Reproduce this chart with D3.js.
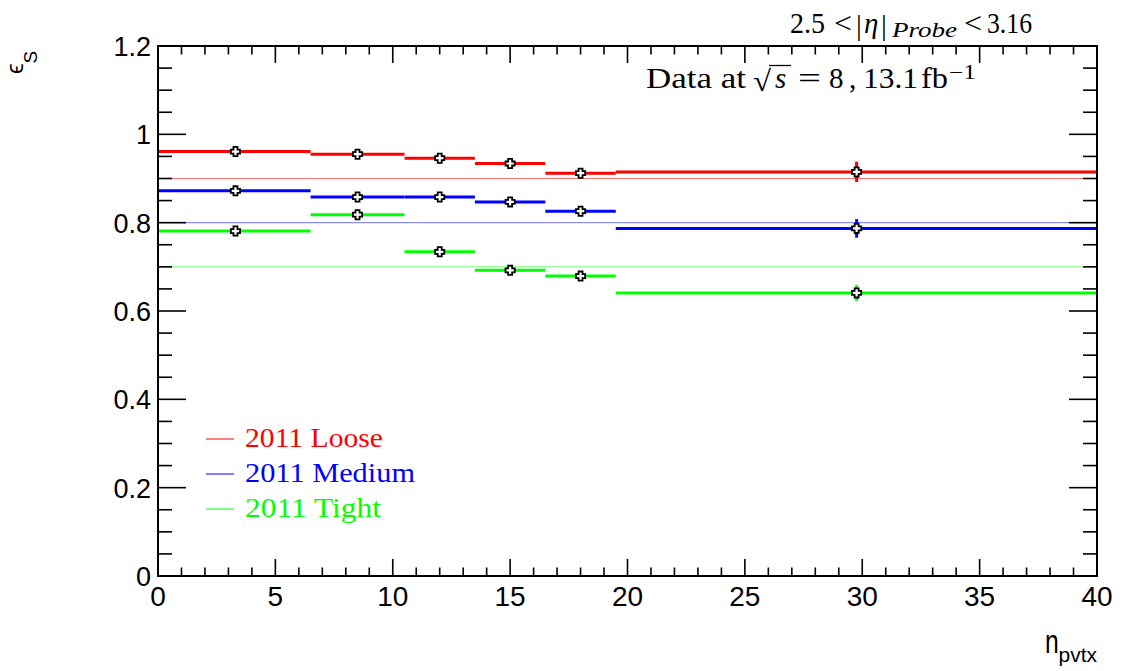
<!DOCTYPE html>
<html>
<head>
<meta charset="utf-8">
<script src="https://cdn.jsdelivr.net/npm/d3@7"></script>
<style>
  html, body { margin: 0; padding: 0; background: #fff; }
  svg { display: block; }
</style>
</head>
<body>
<svg id="chart" width="1127" height="671"></svg>
<script>
// Bin edges in number of primary vertices
const binEdges = [0, 6.5, 10.5, 13.5, 16.5, 19.5, 40];
// Mean n_pvtx within each bin (where the marker sits)
const binCenters = [3.3, 8.5, 12.0, 15.0, 18.0, 29.76];

// Efficiencies per working point
const looseEff  = [0.961, 0.955, 0.946, 0.934, 0.912, 0.915];
const mediumEff = [0.872, 0.858, 0.858, 0.847, 0.826, 0.787];
const tightEff  = [0.781, 0.818, 0.734, 0.692, 0.679, 0.641];

// Statistical uncertainties
const looseErr  = [0.003, 0.003, 0.003, 0.003, 0.003, 0.023];
const mediumErr = [0.003, 0.003, 0.003, 0.003, 0.003, 0.021];
const tightErr  = [0.003, 0.003, 0.003, 0.003, 0.003, 0.018];

// 2011 reference efficiencies
const refValues = [0.9, 0.8, 0.7];
const seriesNames = ["2011 Loose", "2011 Medium", "2011 Tight"];
const seriesColors = ["#ff0000", "#0000ff", "#00ff00"];

const xTicks = [0, 5, 10, 15, 20, 25, 30, 35, 40];
const yTicks = [0, 0.2, 0.4, 0.6, 0.8, 1.0, 1.2];

const svg = d3.select("#chart");
const plotLeft = 158, plotRight = 1097, plotTop = 46, plotBottom = 576;

const x = d3.scaleLinear().domain([0, 40]).range([plotLeft, plotRight]);
const y = d3.scaleLinear().domain([0, 1.2]).range([plotBottom, plotTop]);

const series = [
  { vals: looseEff, errs: looseErr, color: seriesColors[0] },
  { vals: mediumEff, errs: mediumErr, color: seriesColors[1] },
  { vals: tightEff, errs: tightErr, color: seriesColors[2] }
];

// Reference lines
svg.append("g").selectAll("line").data(refValues).join("line")
  .attr("x1", x(0)).attr("x2", x(40))
  .attr("y1", d => y(d)).attr("y2", d => y(d))
  .attr("stroke", (d, i) => seriesColors[i])
  .attr("stroke-opacity", 0.55)
  .attr("stroke-width", 1);

// Histogram steps and error bars
series.forEach(s => {
  const g = svg.append("g");
  g.selectAll("line.bin").data(s.vals).join("line")
    .attr("class", "bin")
    .attr("x1", (d, i) => x(binEdges[i])).attr("x2", (d, i) => x(binEdges[i + 1]))
    .attr("y1", d => y(d)).attr("y2", d => y(d))
    .attr("stroke", s.color).attr("stroke-width", 3);
  g.selectAll("line.err").data(s.vals).join("line")
    .attr("class", "err")
    .attr("x1", (d, i) => x(binCenters[i])).attr("x2", (d, i) => x(binCenters[i]))
    .attr("y1", (d, i) => y(d - s.errs[i])).attr("y2", (d, i) => y(d + s.errs[i]))
    .attr("stroke", s.color).attr("stroke-width", 3);
});

// Open-cross markers
const a = 2, b = 4.6;
const crossPath = `M${-a},${-b}H${a}V${-a}H${b}V${a}H${a}V${b}H${-a}V${a}H${-b}V${-a}H${-a}Z`;
series.forEach(s => {
  svg.append("g").selectAll("path").data(s.vals).join("path")
    .attr("d", crossPath)
    .attr("transform", (d, i) => `translate(${x(binCenters[i])},${y(d)})`)
    .attr("fill", "#fff").attr("stroke", "#000").attr("stroke-width", 1.8);
});

// Frame
svg.append("rect")
  .attr("x", plotLeft).attr("y", plotTop)
  .attr("width", plotRight - plotLeft).attr("height", plotBottom - plotTop)
  .attr("fill", "none").attr("stroke", "#000").attr("stroke-width", 2);

// Ticks: x major every 5 (minor every 1), y major every 0.2 (minor every 0.05)
const ax = svg.append("g").attr("stroke", "#000").attr("stroke-width", 1.6);
d3.range(0, 41, 1).forEach(v => {
  const len = (v % 5 === 0) ? 17 : 8.5;
  ax.append("line").attr("x1", x(v)).attr("x2", x(v)).attr("y1", plotBottom).attr("y2", plotBottom - len);
  ax.append("line").attr("x1", x(v)).attr("x2", x(v)).attr("y1", plotTop).attr("y2", plotTop + len);
});
d3.range(0, 25).forEach(i => {
  const v = i * 0.05;
  const len = (i % 4 === 0) ? 28 : 14;
  ax.append("line").attr("y1", y(v)).attr("y2", y(v)).attr("x1", plotLeft).attr("x2", plotLeft + len);
  ax.append("line").attr("y1", y(v)).attr("y2", y(v)).attr("x1", plotRight).attr("x2", plotRight - len);
});

// Tick labels
const tickFont = "'Liberation Sans', Arial, sans-serif";
svg.append("g").selectAll("text").data(xTicks).join("text")
  .attr("x", d => x(d)).attr("y", 606)
  .attr("text-anchor", "middle")
  .attr("font-family", tickFont).attr("font-size", 28)
  .text(d => d);
svg.append("g").selectAll("text").data(yTicks).join("text")
  .attr("x", 151).attr("y", d => y(d) + 10)
  .attr("text-anchor", "end")
  .attr("font-family", tickFont).attr("font-size", 27)
  .text(d => d === 0 ? "0" : (d === 1 ? "1" : d3.format(".1f")(d)));

// Axis titles
svg.append("text")
  .attr("transform", "translate(1045,653) scale(0.75,1)")
  .attr("font-family", tickFont).attr("font-size", 33).text("n");
svg.append("text")
  .attr("x", 1097).attr("y", 662).attr("text-anchor", "end")
  .attr("font-family", tickFont).attr("font-size", 21).text("pvtx");

const yt = svg.append("text")
  .attr("transform", "translate(23,74) rotate(-90)")
  .attr("font-family", tickFont).attr("font-size", 24);
yt.append("tspan").text("ϵ");
yt.append("tspan").attr("font-size", 19).attr("dy", 14).text("S");

// Legend
const serif = "'Liberation Serif', 'DejaVu Serif', serif";
const legendWidths = [138, 170, 136];
const lg = svg.append("g");
seriesNames.forEach((name, i) => {
  const yy = 439 + i * 35;
  lg.append("line").attr("x1", 206).attr("x2", 234).attr("y1", yy).attr("y2", yy)
    .attr("stroke", seriesColors[i]).attr("stroke-width", 1);
  lg.append("text").attr("x", 245).attr("y", yy + 8)
    .attr("font-family", serif).attr("font-size", 27)
    .attr("textLength", legendWidths[i]).attr("lengthAdjust", "spacingAndGlyphs")
    .attr("fill", seriesColors[i]).text(name);
});

// Annotations, set piece by piece with math-style spacing
function piece(txt, px, py, size, opts = {}) {
  const t = svg.append("text").attr("x", px).attr("y", py)
    .attr("font-family", serif).attr("font-size", size).attr("fill", "#000")
    .text(txt);
  if (opts.italic) t.attr("font-style", "italic");
  if (opts.len) t.attr("textLength", opts.len).attr("lengthAdjust", "spacingAndGlyphs");
  return t;
}
piece("2.5", 790, 33, 29, { len: 35 });
piece("<", 834, 33, 29, { len: 18 });
piece("|", 856, 35, 29);
piece("η", 864, 33, 29, { italic: true });
piece("|", 881, 35, 29);
piece("Probe", 892, 37, 21, { italic: true, len: 65 });
piece("<", 964, 33, 29, { len: 18 });
piece("3.16", 987, 33, 29, { len: 45 });

piece("Data at", 646, 88, 29, { len: 100 });
piece("√", 753, 91, 29, { len: 18 });
svg.append("line").attr("x1", 769).attr("x2", 791).attr("y1", 65.5).attr("y2", 65.5)
  .attr("stroke", "#000").attr("stroke-width", 1.3);
piece("s", 775, 88, 29, { italic: true });
piece("=", 798, 88, 29, { len: 23 });
piece("8", 829, 88, 29);
piece(",", 849, 88, 29);
piece("13.1", 863, 88, 29, { len: 55 });
piece("fb", 921, 88, 29, { len: 27 });
piece("−1", 949, 79, 20, { len: 27 });
</script>
</body>
</html>
